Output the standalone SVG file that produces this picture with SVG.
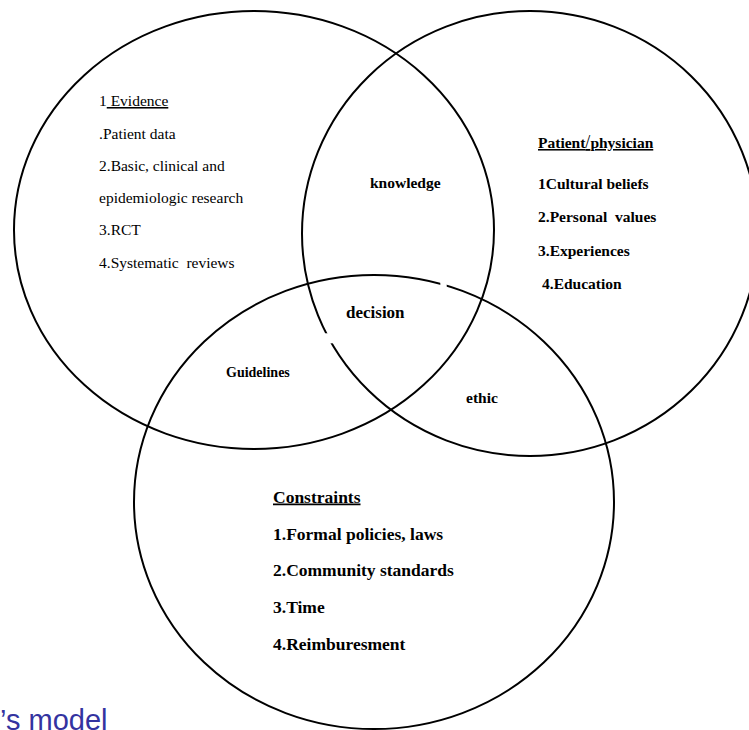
<svg xmlns="http://www.w3.org/2000/svg" width="749" height="730" viewBox="0 0 749 730">
  <style>
    .ring { fill: none; stroke: #000; stroke-width: 2; }
    .reg { font-family: "Liberation Serif", "Times New Roman", serif; font-size: 15.5px; fill: #000; }
    .bold { font-family: "Liberation Serif", "Times New Roman", serif; font-weight: bold; fill: #000; }
    .u { text-decoration: underline; }
    .title { font-family: "Liberation Sans", Arial, sans-serif; font-size: 29px; fill: #3333a0; }
  </style>
  <defs>
    <mask id="gapRight" maskUnits="userSpaceOnUse" x="0" y="0" width="749" height="730">
      <rect x="0" y="0" width="749" height="730" fill="#fff"/>
      <rect x="319" y="333.3" width="18" height="10" fill="#000"/>
    </mask>
    <mask id="gapBottom" maskUnits="userSpaceOnUse" x="0" y="0" width="749" height="730">
      <rect x="0" y="0" width="749" height="730" fill="#fff"/>
      <rect x="440.3" y="276" width="6.4" height="16" fill="#000"/>
    </mask>
  </defs>

  <g id="connectors"></g>

  <g id="evidence">
    <ellipse class="ring" cx="254" cy="230" rx="240" ry="219"/>
    <text class="reg" x="99" y="106">1<tspan class="u"> Evidence</tspan></text>
    <text class="reg" x="99" y="138.5">.Patient data</text>
    <text class="reg" x="99" y="171">2.Basic, clinical and</text>
    <text class="reg" x="99" y="203">epidemiologic research</text>
    <text class="reg" x="99" y="235">3.RCT</text>
    <text class="reg" x="99" y="267.5" xml:space="preserve">4.Systematic  reviews</text>
  </g>

  <g id="patient-physician">
    <ellipse class="ring" cx="530" cy="233.5" rx="228" ry="222.5" mask="url(#gapRight)"/>
    <text class="bold u" x="538" y="148" font-size="15.5">Patient<tspan font-weight="normal" font-size="18">/</tspan>physician</text>
    <text class="bold" x="538" y="188.5" font-size="15.5">1Cultural beliefs</text>
    <text class="bold" x="538" y="222" font-size="15.5" xml:space="preserve">2.Personal  values</text>
    <text class="bold" x="538" y="255.5" font-size="15.5">3.Experiences</text>
    <text class="bold" x="542" y="288.5" font-size="15.5">4.Education</text>
  </g>

  <g id="constraints">
    <ellipse class="ring" cx="374" cy="502" rx="240" ry="227" mask="url(#gapBottom)"/>
    <text class="bold u" x="273" y="502.5" font-size="17.5">Constraints</text>
    <text class="bold" x="273" y="539.5" font-size="17.5">1.Formal policies, laws</text>
    <text class="bold" x="273" y="576" font-size="17.5">2.Community standards</text>
    <text class="bold" x="273" y="613" font-size="17.5">3.Time</text>
    <text class="bold" x="273" y="650" font-size="17.5">4.Reimburesment</text>
  </g>

  <g id="knowledge">
    <text class="bold" x="370" y="188" font-size="15.5">knowledge</text>
  </g>
  <g id="decision">
    <text class="bold" x="346" y="318" font-size="17">decision</text>
  </g>
  <g id="guidelines">
    <text class="bold" x="226" y="377" font-size="14">Guidelines</text>
  </g>
  <g id="ethic">
    <text class="bold" x="466" y="403" font-size="15.5">ethic</text>
  </g>

  <g id="caption">
    <text class="title" x="0" y="729.5">’s model</text>
  </g>
</svg>
